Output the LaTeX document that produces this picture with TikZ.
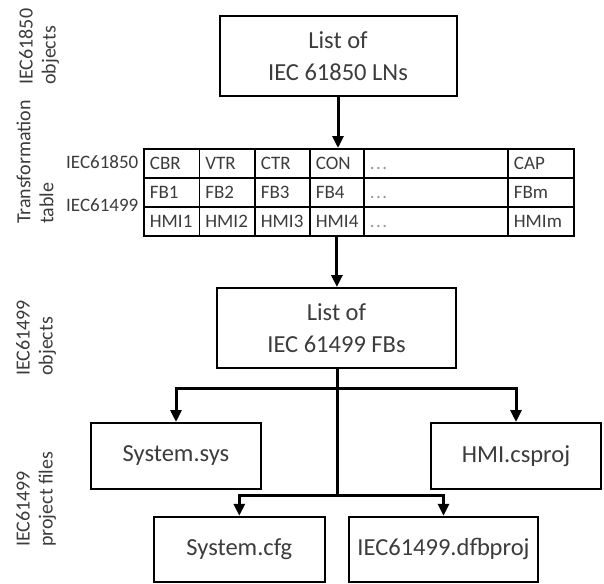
\documentclass[tikz,border=0pt]{standalone}
\usepackage{fontspec}
\setmainfont{Carlito}
\usetikzlibrary{arrows.meta}
\definecolor{txt}{RGB}{60,60,60}
\definecolor{dotc}{RGB}{150,150,150}
\newcommand{\tdots}{\vphantom{C}\textcolor{dotc}{.\kern1.5pt.\kern1.5pt.}}
\begin{document}
\begin{tikzpicture}[x=1pt,y=-1pt,
  box/.style={draw=black, line width=2pt, align=center, inner sep=0pt, text=txt,
    font=\fontsize{24.5}{31.7}\selectfont},
  cellbox/.style={draw=black, line width=1.8pt, minimum height=29pt, inner ysep=0pt,
    inner xsep=6pt, anchor=north west, align=left, text=txt,
    font=\fontsize{19}{20}\selectfont},
  rowlab/.style={inner sep=0pt, anchor=east, text=txt, font=\fontsize{19}{20}\selectfont},
  side/.style={inner sep=0pt, rotate=90, anchor=west, align=left, text=txt,
    font=\fontsize{20}{23}\selectfont},
  arr/.style={line width=3pt, -{Triangle[width=11pt,length=12pt]}},
  plain/.style={line width=3pt}]
\useasboundingbox (0,0) rectangle (604,583);

% side labels
\node[side] (s1) at (39,85) {IEC61850\\objects};
\node[side] (s2) at (35,224) {Transformation\\table};
\node[side] (s3) at (36,376) {IEC61499\\objects};
\node[side] (s4) at (36,547) {IEC61499\\project files};

% boxes
\node[box, minimum width=237pt, minimum height=80pt] (top) at (338,56) {List of\\IEC 61850 LNs};
\node[box, minimum width=239pt, minimum height=80pt] (mid) at (336.5,328) {List of\\IEC 61499 FBs};
\node[box, minimum width=170pt, minimum height=66pt] (sys) at (176,456) {System.sys};
\node[box, minimum width=170pt, minimum height=66pt] (hmi) at (516,456) {HMI.csproj};
\node[box, minimum width=170.6pt, minimum height=65pt] (cfg) at (239.3,549.3) {System.cfg};
\node[box, minimum width=189pt, minimum height=65pt] (dfb) at (443.5,549.3) {IEC61499.dfbproj};

% table
\foreach \n/\x/\w/\a/\b/\c in {1/143/55.5/CBR/FB1/HMI1, 2/198.5/55.5/VTR/FB2/HMI2,
  3/254/55/CTR/FB3/HMI3, 4/309/54/CON/FB4/HMI4,
  5/363/144/{\tdots}/{\tdots}/{\tdots},
  6/507/66/CAP/FBm/HMIm}{
  \pgfmathsetmacro\tw{\w-12}
  \node[cellbox, text width=\tw pt] (r1c\n) at (\x,148) {\a};
  \node[cellbox, text width=\tw pt] (r2c\n) at (\x,177) {\b};
  \node[cellbox, text width=\tw pt] (r3c\n) at (\x,206) {\c};
}
\node[rowlab] (l1) at (138.5,162.5) {IEC61850};
\node[rowlab] (l2) at (138.5,205) {IEC61499};

% connectors
\draw[arr] (top.south) -- (top.south |- r1c4.north);
\draw[arr] (r3c4.south) -- (r3c4.south |- mid.north);
\coordinate (b1) at (337,388);
\coordinate (b2) at (337,495);
\draw[plain] (mid.south -| b1) -- (b2);
\draw[arr] (b1) -| (sys.north);
\draw[arr] (b1) -| (hmi.north);
\draw[arr] (b2) -| (cfg.north);
\draw[arr] (b2) -| (dfb.north);
\end{tikzpicture}
\end{document}
